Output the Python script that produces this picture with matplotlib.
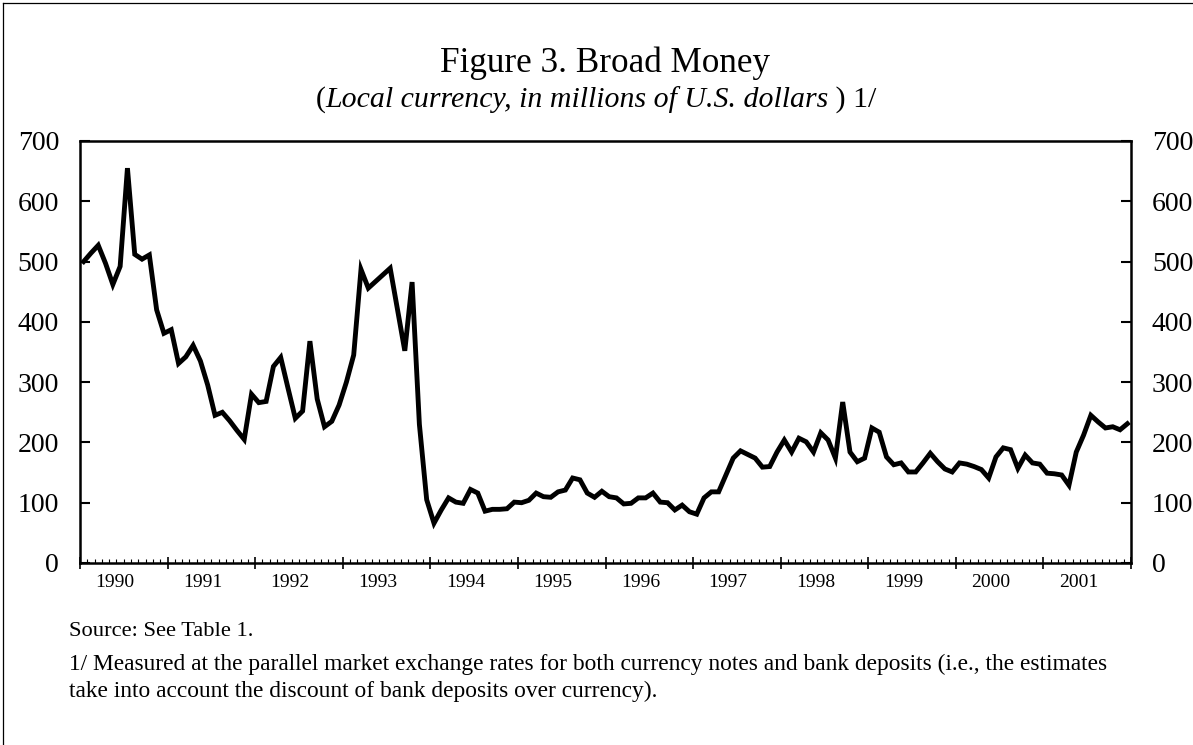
import matplotlib
matplotlib.use("Agg")
import matplotlib.pyplot as plt
from matplotlib.lines import Line2D
import numpy as np

plt.rcParams["font.family"] = "Liberation Serif"

# monthly broad money, Jan 1990 - Dec 2001 (millions of U.S. dollars)
years = list(range(1990, 2002))
broad_money = [
    500, 514, 527, 497, 462, 492, 655, 512, 504, 511, 420, 381,   # 1990
    387, 331, 342, 361, 335, 295, 245, 250, 236, 220, 205, 280,   # 1991
    266, 268, 326, 341, 290, 240, 252, 368, 272, 226, 235, 262,   # 1992
    300, 345, 487, 456, 467, 478, 489, 420, 352, 466, 230, 105,   # 1993
    66, 88, 108, 101, 99, 122, 116, 86, 89, 89, 90, 101,          # 1994
    100, 104, 116, 110, 109, 118, 121, 141, 138, 116, 109, 119,   # 1995
    110, 108, 98, 99, 108, 108, 116, 101, 100, 88, 96, 85,        # 1996
    81, 108, 118, 118, 146, 174, 186, 180, 174, 159, 160, 184,    # 1997
    204, 184, 207, 201, 184, 216, 204, 174, 267, 184, 168, 174,   # 1998
    224, 217, 176, 163, 166, 151, 151, 166, 182, 168, 156, 151,   # 1999
    166, 164, 160, 155, 141, 176, 191, 188, 157, 179, 166, 164,   # 2000
    149, 148, 146, 129, 184, 212, 245, 234, 224, 226, 221, 231,   # 2001
]
y_ticks = list(range(0, 701, 100))

title = "Figure 3. Broad Money"
sub_parts = [("(", "normal"), ("Local currency, in millions of U.S. dollars", "italic"), (" ) 1/", "normal")]
source = "Source: See Table 1."
note1 = ("1/ Measured at the parallel market exchange rates for both currency notes and bank deposits "
         "(i.e., the estimates")
note2 = "take into account the discount of bank deposits over currency)."

W, H = 1193, 745
fig = plt.figure(figsize=(W / 100, H / 100), dpi=100)
ax = fig.add_axes([80 / W, 1 - 563 / H, 1051 / W, 422 / H])

x = years[0] + (np.arange(len(broad_money)) + 0.5) / 12
ax.plot(x, broad_money, color="black", lw=3.5, solid_joinstyle="miter")

ax.set_xlim(years[0], years[-1] + 1)
ax.set_ylim(0, 700)
ax.set_yticks(y_ticks)
ax.tick_params(axis="y", direction="in", length=7, width=1.5, labelsize=20, pad=15,
               left=True, right=True, labelleft=True, labelright=True)

ax.set_xticks(range(years[0], years[-1] + 2))
ax.set_xticklabels([])
ax.set_xticks(np.arange(years[0], years[-1] + 1, 1 / 12), minor=True)
ax.tick_params(axis="x", which="major", direction="inout", length=8, width=1.2)
ax.tick_params(axis="x", which="minor", direction="in", length=3, width=0.8)
for yr in years:
    ax.text(yr + 0.4, -0.027, str(yr), transform=ax.get_xaxis_transform(),
            ha="center", va="top", fontsize=14)

for s in ax.spines.values():
    s.set_linewidth(1.8)

fig.text(605 / W, 1 - 63 / H, title, ha="center", va="center", fontsize=25.3)

# subtitle with italic middle part, centred as a whole
renderer = fig.canvas.get_renderer()
pieces = []
for txt, style in sub_parts:
    t = fig.text(0, 1 - 100 / H, txt, fontsize=21.5, style=style, va="center", ha="left")
    pieces.append(t)
widths = [p.get_window_extent(renderer).width for p in pieces]
x0 = 596 - sum(widths) / 2
for p, w in zip(pieces, widths):
    p.set_x(x0 / W)
    x0 += w

fig.text(69 / W, 1 - 632 / H, source, ha="left", va="center", fontsize=16.2)
fig.text(69 / W, 1 - 664 / H, note1, ha="left", va="center", fontsize=16.8)
fig.text(69 / W, 1 - 691 / H, note2, ha="left", va="center", fontsize=16.8)

# page frame
fig.add_artist(Line2D([3 / W, 1], [1 - 3 / H, 1 - 3 / H], transform=fig.transFigure, color="black", lw=0.9))
fig.add_artist(Line2D([3 / W, 3 / W], [0, 1 - 3 / H], transform=fig.transFigure, color="black", lw=0.9))

fig.savefig("out.png", dpi=100)
